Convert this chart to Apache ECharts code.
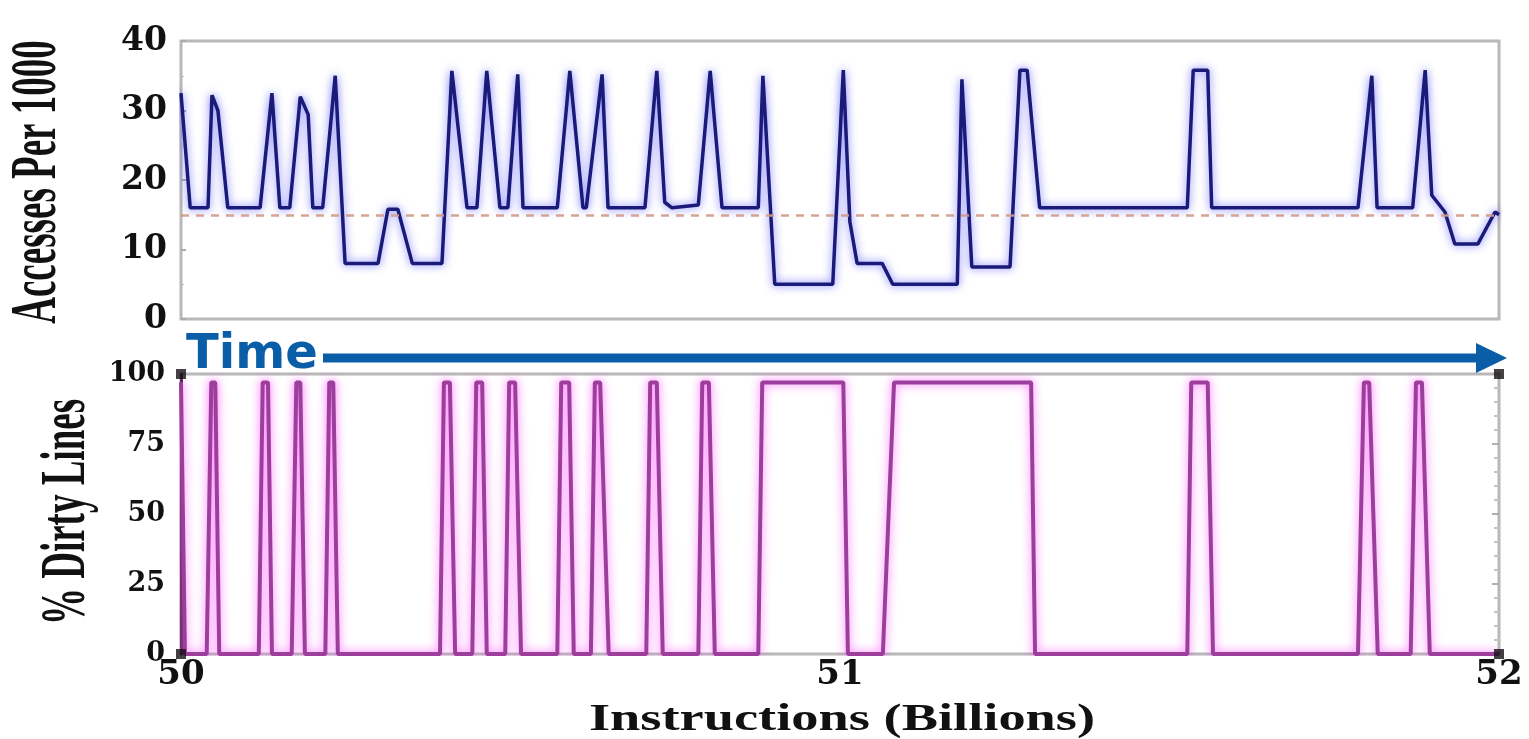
<!DOCTYPE html>
<html>
<head>
<meta charset="utf-8">
<script src="https://cdn.jsdelivr.net/npm/echarts@6/dist/echarts.min.js"></script>
<style>
html,body{margin:0;padding:0;background:#fff;}
#chart{width:1529px;height:739px;}
</style>
</head>
<body>
<div id="chart"></div>
<script>
// ---- data ----
const accessX = [50.000,50.014,50.041,50.047,50.056,50.071,50.120,50.138,50.150,50.165,50.181,50.193,50.200,50.215,50.234,50.249,50.299,50.314,50.329,50.351,50.396,50.411,50.434,50.449,50.464,50.484,50.496,50.511,50.519,50.571,50.590,50.610,50.615,50.639,50.648,50.704,50.722,50.734,50.745,50.785,50.803,50.821,50.876,50.883,50.901,50.989,51.005,51.015,51.026,51.064,51.080,51.178,51.185,51.200,51.258,51.273,51.284,51.303,51.527,51.536,51.558,51.564,51.786,51.807,51.815,51.869,51.888,51.898,51.918,51.933,51.968,51.994,52.000];
const accessY = [32.5,16,16,32.2,30,16,16,32.5,16,16,32,29.4,16,16,35,8,8,15.8,15.8,8,8,35.7,16,16,35.7,16,16,35.2,16,16,35.7,16,16,35.2,16,16,35.7,16.8,16,16.4,35.7,16,16,35,5,5,35.8,14,8,8,5,5,34.5,7.5,7.5,35.8,35.8,16,16,35.8,35.8,16,16,35,16,16,35.8,17.8,15.4,10.8,10.8,15.4,15];
const dirtyX = [50.000,50.006,50.039,50.046,50.052,50.058,50.118,50.124,50.132,50.138,50.168,50.175,50.181,50.188,50.219,50.225,50.231,50.238,50.393,50.399,50.408,50.416,50.442,50.448,50.457,50.464,50.492,50.498,50.507,50.516,50.571,50.577,50.589,50.596,50.622,50.628,50.636,50.649,50.706,50.712,50.722,50.731,50.785,50.791,50.801,50.810,50.876,50.882,51.005,51.012,51.065,51.082,51.290,51.296,51.527,51.533,51.558,51.566,51.786,51.795,51.803,51.816,51.866,51.874,51.883,51.895,52.000];
const dirtyY = [97,0,0,97,97,0,0,97,97,0,0,97,97,0,0,97,97,0,0,97,97,0,0,97,97,0,0,97,97,0,0,97,97,0,0,97,97,0,0,97,97,0,0,97,97,0,0,97,97,0,0,97,97,0,0,97,97,0,0,97,97,0,0,97,97,0,0];
const thresholdValue = 15;
const cornerX = [50, 50, 52, 52];
const cornerY = [100, 0, 100, 0];
const xTicks = ['50', '51', '52'];
const accessTicks = ['0', '10', '20', '30', '40'];
const dirtyTicks = ['0', '25', '50', '75', '100'];
const accessTitle = 'Accesses Per 1000';
const dirtyTitle = '% Dirty Lines';
const xTitle = 'Instructions (Billions)';
const timeLabel = 'Time';

const zip = (xs, ys) => xs.map((x, i) => [x, ys[i]]);

const chart = echarts.init(document.getElementById('chart'), null, {renderer: 'canvas'});
const labelFont = '"DejaVu Serif"';
const titleFont = '"Liberation Serif"';
const blue = '#0a5ea8';

const option = {
  animation: false,
  backgroundColor: '#ffffff',
  grid: [
    {left: 181, top: 41, width: 1318, height: 278, show: true, borderColor: '#b8b8b8', borderWidth: 3, backgroundColor: 'transparent'},
    {left: 181, top: 374, width: 1318, height: 280, show: true, borderColor: '#b8b8b8', borderWidth: 3, backgroundColor: 'transparent'}
  ],
  xAxis: [
    {type: 'value', gridIndex: 0, min: 50, max: 52, interval: 1,
     axisLine: {show: false}, axisTick: {show: false}, axisLabel: {show: false}, splitLine: {show: false}},
    {type: 'value', gridIndex: 1, min: 50, max: 52, interval: 1,
     axisLine: {show: false}, axisTick: {show: false}, splitLine: {show: false},
     axisLabel: {show: true, margin: 4, color: '#111', fontFamily: labelFont, fontWeight: 'bold', fontSize: 34,
       formatter: v => xTicks[Math.round(v - 50)] ?? ''}}
  ],
  yAxis: [
    {type: 'value', gridIndex: 0, min: 0, max: 40, interval: 10,
     axisLine: {show: false},
     axisTick: {show: true, inside: true, length: 5, lineStyle: {color: '#aaaaaa', width: 2}},
     minorTick: {show: true, splitNumber: 2, length: 3, lineStyle: {color: '#bbbbbb'}},
     splitLine: {show: false},
     axisLabel: {margin: 14, color: '#111', fontFamily: labelFont, fontWeight: 'bold', fontSize: 33,
       formatter: v => accessTicks[Math.round(v / 10)] ?? ''}},
    {type: 'value', gridIndex: 1, min: 0, max: 100, interval: 25,
     axisLine: {show: true, lineStyle: {color: '#4a2a48', width: 3}},
     axisTick: {show: false}, splitLine: {show: false},
     axisLabel: {margin: 16, color: '#111', fontFamily: labelFont, fontWeight: 'bold', fontSize: 27,
       formatter: v => dirtyTicks[Math.round(v / 25)] ?? ''}},
    {type: 'value', gridIndex: 1, min: 0, max: 100, interval: 25, position: 'right',
     axisLine: {show: false},
     axisTick: {show: true, inside: true, length: 7, lineStyle: {color: '#b0b0b0', width: 2}},
     minorTick: {show: true, splitNumber: 5, length: 5, lineStyle: {color: '#c4c4c4', width: 2}},
     axisLabel: {show: false}, splitLine: {show: false}}
  ],
  series: [
    {name: 'Accesses', type: 'line', xAxisIndex: 0, yAxisIndex: 0, data: zip(accessX, accessY),
     symbol: 'none', z: 3,
     lineStyle: {color: '#1a1a78', width: 3.5, shadowColor: 'rgba(70,70,255,0.8)', shadowBlur: 8},
     markLine: {silent: true, symbol: 'none', label: {show: false},
       lineStyle: {color: '#d49a86', type: [8, 7], width: 2.5, opacity: 0.9},
       data: [{yAxis: thresholdValue}]}},
    {name: 'Dirty', type: 'line', xAxisIndex: 1, yAxisIndex: 1, data: zip(dirtyX, dirtyY),
     symbol: 'none', z: 3,
     lineStyle: {color: '#9e3e9c', width: 4, shadowColor: 'rgba(255,80,255,0.9)', shadowBlur: 10}},
    {name: 'Corners', type: 'scatter', xAxisIndex: 1, yAxisIndex: 1, data: zip(cornerX, cornerY),
     symbol: 'rect', symbolSize: 10, itemStyle: {color: '#151015'}, z: 5, silent: true}
  ],
  graphic: [
    {type: 'text', x: 38, y: 182, rotation: Math.PI / 2, scaleY: 1.75,
     style: {text: accessTitle, font: 'bold 37px ' + titleFont, fill: '#111', align: 'center', verticalAlign: 'middle'}},
    {type: 'text', x: 68, y: 512, rotation: Math.PI / 2, scaleY: 1.7,
     style: {text: dirtyTitle, font: 'bold 37px ' + titleFont, fill: '#111', align: 'center', verticalAlign: 'middle'}},
    {type: 'text', x: 842, y: 720, scaleX: 1.47,
     style: {text: xTitle, font: 'bold 37px ' + titleFont, fill: '#111', align: 'center', verticalAlign: 'middle'}},
    {type: 'text', x: 186, y: 356,
     style: {text: timeLabel, font: 'bold 48px "DejaVu Sans"', fill: blue, align: 'left', verticalAlign: 'middle'}},
    {type: 'line', shape: {x1: 323, y1: 358, x2: 1480, y2: 358}, style: {stroke: blue, lineWidth: 9}},
    {type: 'polygon', shape: {points: [[1476, 343], [1507, 358], [1476, 373]]}, style: {fill: blue}}
  ]
};
chart.setOption(option);
</script>
</body>
</html>
